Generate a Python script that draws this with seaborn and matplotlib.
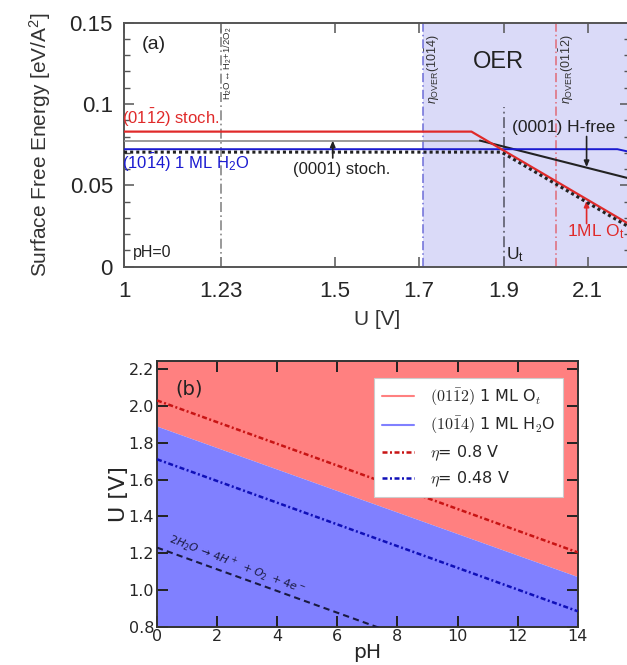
import numpy as np
import pandas as pd
import matplotlib
matplotlib.use("Agg")
import matplotlib.pyplot as plt
from matplotlib.lines import Line2D
from matplotlib.font_manager import FontProperties
import seaborn as sns

# ---------------- Panel (a) data: surface free energy vs U ----------------
red_U = [1.0, 1.824, 2.2]            # (01-12) stoch. -> 1ML O_t
red_E = [0.083, 0.083, 0.0258]
stoch0001_U = [1.0, 1.844]           # (0001) stoch.
stoch0001_E = [0.0775, 0.0775]
hfree_U = [1.844, 2.2]               # (0001) H-free
hfree_E = [0.0775, 0.0541]
blue_U = [1.0, 2.17, 2.2]            # (10-14) 1 ML H2O
blue_E = [0.0722, 0.0722, 0.0705]
dot_U = [1.0, 1.895, 2.2]            # dotted black
dot_E = [0.0704, 0.0704, 0.0240]

U_water = 1.23
U_over_1014 = 1.708
U_t = 1.9
U_t_top = 0.098
U_over_0112 = 2.025

xticks_a = [1, 1.23, 1.5, 1.7, 1.9, 2.1]
xticklabels_a = ["1", "1.23", "1.5", "1.7", "1.9", "2.1"]
yticks_a = [0, 0.05, 0.1, 0.15]
yticklabels_a = ["0", "0.05", "0.1", "0.15"]

# ---------------- Panel (b) data: U vs pH ----------------
pH = [0, 14]
boundary_U = [1.89, 1.072]
eta08_U = [2.03, 1.204]
eta048_U = [1.71, 0.884]
water_U = [1.23, 0.404]
xticks_b = [0, 2, 4, 6, 8, 10, 12, 14]
yticks_b = [0.8, 1.0, 1.2, 1.4, 1.6, 1.8, 2.0, 2.2]

sns.set_style("ticks")
plt.rcParams['font.family'] = ['Liberation Sans', 'DejaVu Sans']
plt.rcParams['mathtext.fontset'] = 'custom'
plt.rcParams['mathtext.rm'] = 'Liberation Sans'
plt.rcParams['mathtext.it'] = 'Liberation Sans:italic'
plt.rcParams['mathtext.bf'] = 'Liberation Sans:bold'

fig = plt.figure(figsize=(6.27, 6.65), dpi=100)
fig.patch.set_facecolor("white")

# ====================== Panel (a) ======================
axa = fig.add_axes([0.1978, 0.599, 0.807, 0.367])
axa.set_xlim(1, 2.2)
axa.set_ylim(0, 0.15)
axa.axvspan(U_over_1014, 2.2, color="#dadaf8", zorder=0, lw=0)

axa.axvline(U_water, color="#888888", lw=1.2, ls=(0, (6, 2, 1, 2)), zorder=1)
axa.axvline(U_over_1014, color="#6d6dd8", lw=1.1, ls=(0, (6, 2, 1, 2)), zorder=1)
axa.axvline(U_over_0112, color="#e06a78", lw=1.1, ls=(0, (6, 2, 1, 2)), zorder=1)
axa.plot([U_t, U_t], [0, U_t_top], color="#666677", lw=1.3, ls=(0, (6, 2, 1, 2)), zorder=1)

sns.lineplot(x=stoch0001_U, y=stoch0001_E, ax=axa, color="#8a8a8a", lw=1.2, zorder=3)
sns.lineplot(x=hfree_U, y=hfree_E, ax=axa, color="#222222", lw=1.5, zorder=3)
sns.lineplot(x=blue_U, y=blue_E, ax=axa, color="#1a1ad0", lw=1.4, zorder=3)
sns.lineplot(x=red_U, y=red_E, ax=axa, color="#e02a2a", lw=1.6, zorder=4)
sns.lineplot(x=dot_U, y=dot_E, ax=axa, color="#222222", lw=2.2, ls=(0, (1, 1)), zorder=5)

axa.set_xticks(xticks_a)
axa.set_xticklabels(xticklabels_a)
axa.set_yticks(yticks_a)
axa.set_yticklabels(yticklabels_a)
axa.set_yticks(np.arange(0, 0.151, 0.01), minor=True)
axa.tick_params(axis="both", which="major", direction="in", length=7, width=1.1,
                labelsize=16, top=True, right=True, color="#555555", pad=8)
axa.tick_params(axis="y", which="minor", direction="in", length=4, width=1,
                right=True, left=True, color="#555555")
axa.tick_params(axis="x", which="major", pad=10)
for sp in axa.spines.values():
    sp.set_color("#555555")
    sp.set_linewidth(1.4)
axa.set_xlabel("U [V]", fontsize=15, labelpad=6, color="#333333")
axa.set_ylabel("Surface Free Energy [eV/A$^2$]", fontsize=15, labelpad=12, color="#333333")

txt_kw = dict(clip_on=False, zorder=7)
axa.text(1.042, 0.1365, "(a)", fontsize=14, va="center", ha="left", color="#222222")
axa.text(1.021, 0.0085, "pH=0", fontsize=11.5, va="center", ha="left", color="#222222")
axa.text(0.995, 0.0915, r"(01$\bar{1}$2) stoch.", fontsize=12, va="center", ha="left",
         color="#e02a2a", **txt_kw)
axa.text(0.995, 0.0640, r"(10$\bar{1}$4) 1 ML H$_2$O", fontsize=12, va="center", ha="left",
         color="#1a1ad0", **txt_kw)
axa.text(1.40, 0.0598, "(0001) stoch.", fontsize=12, va="center", ha="left", color="#222222")
axa.text(1.919, 0.0855, "(0001) H-free", fontsize=12.5, va="center", ha="left", color="#222222")
axa.text(2.05, 0.0213, r"1ML O$_\mathrm{t}$", fontsize=12.5, va="center", ha="left", color="#e02a2a")
axa.text(1.906, 0.0075, r"U$_\mathrm{t}$", fontsize=12.5, va="center", ha="left", color="#222222")
axa.text(1.889, 0.1255, "OER", fontsize=17, va="center", ha="center", color="#222222")
axa.text(1.247, 0.1475, r"H$_2$O$\leftrightarrow$H$_2$+1/2O$_2$", fontsize=6.8, rotation=90,
         va="top", ha="center", color="#333333")
axa.text(1.732, 0.1425, r"$\eta_{\mathrm{OVER}}$(10$\bar{1}$4)", fontsize=9, rotation=90,
         va="top", ha="center", color="#333333")
axa.text(2.050, 0.1425, r"$\eta_{\mathrm{OVER}}$(01$\bar{1}$2)", fontsize=9, rotation=90,
         va="top", ha="center", color="#333333")

arrow_kw = dict(arrowstyle="-|>,head_length=0.35,head_width=0.15", lw=1.2, shrinkA=0, shrinkB=0)
axa.annotate("", xy=(1.495, 0.0775), xytext=(1.495, 0.0668),
             arrowprops=dict(color="#222222", **arrow_kw))
axa.annotate("", xy=(2.097, 0.0612), xytext=(2.097, 0.0800),
             arrowprops=dict(color="#222222", **arrow_kw))
axa.annotate("", xy=(2.097, 0.0405), xytext=(2.097, 0.0265),
             arrowprops=dict(color="#e02a2a", **arrow_kw))

# ====================== Panel (b) ======================
axb = fig.add_axes([0.2504, 0.0576, 0.671, 0.400])
ylo_b, yhi_b = 0.8, 2.246
axb.set_xlim(0, 14)
axb.set_ylim(ylo_b, yhi_b)
axb.fill_between(pH, boundary_U, yhi_b, color=(1.0, 0.5, 0.5), lw=0, zorder=0)
axb.fill_between(pH, ylo_b, boundary_U, color=(0.5, 0.5, 1.0), lw=0, zorder=0)

sns.lineplot(x=pH, y=eta08_U, ax=axb, color="#c81414", lw=1.8, ls=(0, (2, 1, 0.8, 1)), zorder=3)
sns.lineplot(x=pH, y=eta048_U, ax=axb, color="#1010b8", lw=1.8, ls=(0, (2, 1, 0.8, 1)), zorder=3)
sns.lineplot(x=pH, y=water_U, ax=axb, color="#1a1a40", lw=1.5, ls=(0, (3, 2)), zorder=3)

bfont = ['DejaVu Sans']
axb.set_xticks(xticks_b)
axb.set_xticklabels([str(v) for v in xticks_b], family=bfont)
axb.set_yticks(yticks_b)
axb.set_yticklabels([f"{v:.1f}" for v in yticks_b], family=bfont)
axb.tick_params(axis="both", which="major", direction="in", length=8, width=1.4,
                labelsize=11.5, top=True, right=True, color="#222222", pad=2)
for sp in axb.spines.values():
    sp.set_color("#333333")
    sp.set_linewidth(1.4)
axb.set_xlabel("pH", fontsize=14.5, family=bfont, labelpad=-1)
axb.set_ylabel("U [V]", fontsize=16, family=bfont, labelpad=0)
axb.text(0.6, 2.09, "(b)", fontsize=14, family=bfont, va="center", ha="left", color="#222222")
axb.text(0.3, 1.235, r"$2H_2O\, \rightarrow\, 4H^+\ +O_2\ +4e^-$", fontsize=8,
         rotation=-21, rotation_mode="anchor", va="bottom", ha="left", color="#1a1a40",
         math_fontfamily="dejavusans")

handles = [
    Line2D([], [], color=(1.0, 0.5, 0.5), lw=1.5),
    Line2D([], [], color=(0.5, 0.5, 1.0), lw=1.5),
    Line2D([], [], color="#c81414", lw=1.8, ls=(0, (2, 1, 0.8, 1))),
    Line2D([], [], color="#1010b8", lw=1.8, ls=(0, (2, 1, 0.8, 1))),
]
labels = [
    r"$(01\bar{1}2)$ 1 ML O$_t$",
    r"$(10\bar{1}4)$ 1 ML H$_2$O",
    r"$\eta$= 0.8 V",
    r"$\eta$= 0.48 V",
]
leg = axb.legend(handles, labels, loc="upper right", bbox_to_anchor=(0.985, 0.965),
                 prop=FontProperties(family='DejaVu Sans', size=11.5, math_fontfamily='cm'),
                 frameon=True, fancybox=False, edgecolor="#cccccc", framealpha=1,
                 handlelength=2.0, borderpad=0.5, labelspacing=0.45, handletextpad=1.0)
leg.get_frame().set_linewidth(0.8)

fig.savefig("out.png", dpi=100, facecolor="white")
